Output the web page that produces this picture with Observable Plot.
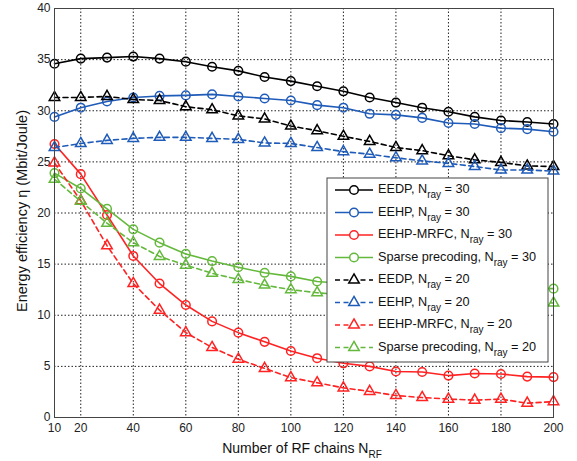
<!DOCTYPE html>
<html>
<head>
<meta charset="utf-8">
<script src="https://cdn.jsdelivr.net/npm/d3@7"></script>
<script src="https://cdn.jsdelivr.net/npm/@observablehq/plot@0.6"></script>
<style>
  html, body { margin: 0; padding: 0; background: #fff; }
  #chart { position: relative; width: 577px; height: 461px; }
  svg { font-family: "Liberation Sans", Arial, Helvetica, sans-serif; }
</style>
</head>
<body>
<div id="chart"></div>
<script>
// ---- data ----
const nRF = [10,20,30,40,50,60,70,80,90,100,110,120,130,140,150,160,170,180,190,200];

const eedp30   = [34.6,35.1,35.2,35.3,35.1,34.8,34.3,33.9,33.3,32.9,32.4,31.9,31.3,30.8,30.3,29.9,29.4,29.05,28.9,28.7];
const eehp30   = [29.4,30.3,30.9,31.3,31.45,31.5,31.6,31.4,31.2,31.0,30.55,30.3,29.7,29.6,29.3,28.8,28.7,28.3,28.2,27.95];
const mrfc30   = [26.75,23.8,19.8,15.8,13.1,11.0,9.4,8.3,7.4,6.5,5.8,5.3,5.0,4.5,4.45,4.1,4.3,4.25,4.0,3.95];
const sparse30 = [23.9,22.4,20.4,18.4,17.1,16.0,15.3,14.7,14.15,13.8,13.3,13.1,13.0,12.9,12.85,12.8,12.75,12.7,12.65,12.6];
const eedp20   = [31.3,31.3,31.4,31.1,31.0,30.4,30.1,29.5,29.2,28.5,28.05,27.5,27.0,26.4,26.1,25.6,25.2,24.95,24.6,24.55];
const eehp20   = [26.4,26.8,27.1,27.3,27.4,27.4,27.3,27.2,26.85,26.8,26.4,26.0,25.75,25.4,25.1,24.85,24.55,24.2,24.2,24.1];
const mrfc20   = [24.9,21.2,16.8,13.1,10.5,8.3,6.85,5.7,4.8,3.9,3.4,2.9,2.55,2.15,1.95,1.8,1.7,1.8,1.4,1.55];
const sparse20 = [23.3,21.15,19.0,17.1,15.75,14.9,14.1,13.5,12.95,12.5,12.2,12.0,11.9,11.8,11.7,11.6,11.5,11.4,11.3,11.2];

const seriesNames = ["EEDP","EEHP","EEHP-MRFC","Sparse precoding","EEDP","EEHP","EEHP-MRFC","Sparse precoding"];
const seriesNray  = [30,30,30,30,20,20,20,20];
const seriesVals  = [eedp30,eehp30,mrfc30,sparse30,eedp20,eehp20,mrfc20,sparse20];
const seriesColor = ["#000000","#1f5bb8","#ff2222","#64b93c","#000000","#1f5bb8","#ff2222","#64b93c"];

const xTicks = [10,20,40,60,80,100,120,140,160,180,200];
const xGrid  = [20,40,60,80,100,120,140,160,180];
const yTicks = [0,5,10,15,20,25,30,35,40];
const yGrid  = [5,10,15,20,25,30,35];

// ---- marks ----
const marks = [
  Plot.ruleX(xGrid, {stroke: "#222", strokeWidth: 1, strokeDasharray: "1.5,2"}),
  Plot.ruleY(yGrid, {stroke: "#222", strokeWidth: 1, strokeDasharray: "1.5,2"})
];
seriesVals.forEach((vals, i) => {
  const rows = nRF.map((x, j) => ({x, y: vals[j]}));
  const solid = seriesNray[i] === 30;
  marks.push(Plot.line(rows, {
    x: "x", y: "y", stroke: seriesColor[i], strokeWidth: 1.6,
    strokeDasharray: solid ? null : "5,3.5"
  }));
  marks.push(Plot.dot(rows, {
    x: "x", y: "y", stroke: seriesColor[i], strokeWidth: 1.5, fill: "none",
    symbol: solid ? "circle" : "triangle", r: solid ? 4.3 : 3.9
  }));
});
marks.push(Plot.frame({stroke: "#444", strokeWidth: 1}));

const svg = Plot.plot({
  width: 577, height: 461,
  marginLeft: 54, marginRight: 24, marginTop: 8, marginBottom: 44,
  style: {fontFamily: '"Liberation Sans", Arial, Helvetica, sans-serif', fontSize: "12px", color: "#222", background: "#fff"},
  x: {domain: [10, 200], ticks: xTicks, tickSize: 0, tickPadding: 6, label: null},
  y: {domain: [0, 40], ticks: yTicks, tickSize: 0, tickPadding: 4, label: null},
  marks
});
document.getElementById("chart").appendChild(svg);

// ---- axis labels ----
const s = d3.select(svg);
const xl = s.append("text")
  .attr("x", 302).attr("y", 453)
  .attr("text-anchor", "middle")
  .attr("font-size", 14).attr("fill", "#111");
xl.append("tspan").text("Number of RF chains N");
xl.append("tspan").attr("font-size", 10).attr("dy", 5).text("RF");

s.append("text")
  .attr("transform", "translate(27,211) rotate(-90)")
  .attr("text-anchor", "middle")
  .attr("font-size", 14.5).attr("fill", "#111")
  .text("Energy efficiency η (Mbit/Joule)");

// ---- legend ----
const lg = s.append("g").attr("text-anchor", "start");
lg.append("rect").attr("x", 327).attr("y", 178).attr("width", 221).attr("height", 184)
  .attr("fill", "#fff").attr("stroke", "#444").attr("stroke-width", 1);
seriesNames.forEach((name, i) => {
  const cy = 190 + 22.5 * i;
  const solid = seriesNray[i] === 30;
  lg.append("line").attr("x1", 335).attr("x2", 373).attr("y1", cy).attr("y2", cy)
    .attr("stroke", seriesColor[i]).attr("stroke-width", 1.6)
    .attr("stroke-dasharray", solid ? null : "5,3.5");
  lg.append("path")
    .attr("transform", `translate(354,${cy})`)
    .attr("d", d3.symbol(solid ? d3.symbolCircle : d3.symbolTriangle, Math.PI * (solid ? 4.3 * 4.3 : 3.9 * 3.9))())
    .attr("fill", "#fff").attr("stroke", seriesColor[i]).attr("stroke-width", 1.5);
  const t = lg.append("text").attr("x", 378).attr("y", cy + 3).attr("font-size", 12.7).attr("fill", "#111")
    .attr("text-anchor", "start");
  t.append("tspan").text(name + ", N");
  t.append("tspan").attr("font-size", 10).attr("dy", 5).text("ray");
  t.append("tspan").attr("dy", -5).text(" = " + seriesNray[i]);
});
</script>
</body>
</html>
